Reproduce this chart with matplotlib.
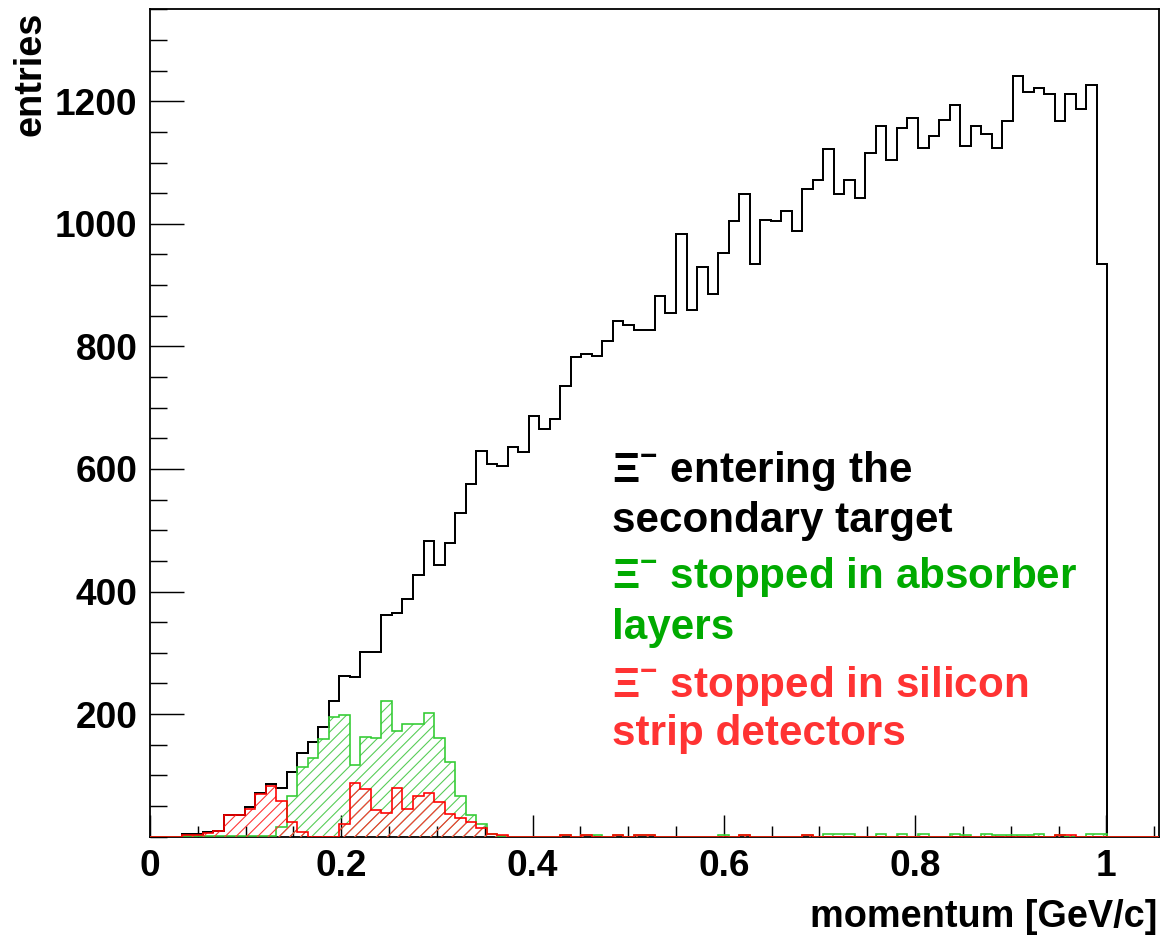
"""
Xi- momentum spectra: entering the secondary target vs. stopped
in absorber layers / silicon strip detectors (ROOT-style histogram).
"""

###############################################################################
# Import packages:
import matplotlib.pyplot as plt
import numpy as np
from matplotlib.ticker import FixedFormatter, FixedLocator, MultipleLocator

###############################################################################
# Data: 100 bins on [0, 1.1] GeV/c, counts

bin_edges = np.linspace(0.0, 1.1, 101)

entering = [
    0, 0, 0, 4, 4, 7, 10, 36, 36, 49,
    71, 86, 79, 106, 137, 155, 179, 222, 263, 260,
    301, 301, 362, 365, 388, 427, 482, 444, 479, 528,
    575, 630, 608, 605, 636, 628, 686, 665, 681, 736,
    783, 788, 785, 809, 841, 835, 826, 826, 882, 855,
    984, 859, 929, 885, 953, 1004, 1048, 935, 1007, 1004,
    1021, 989, 1057, 1072, 1122, 1048, 1072, 1042, 1115, 1159,
    1104, 1156, 1173, 1124, 1144, 1170, 1194, 1127, 1159, 1147,
    1124, 1168, 1241, 1215, 1221, 1212, 1168, 1212, 1188, 1227,
    934, 0, 0, 0, 0, 0, 0, 0, 0, 0,
]

absorber = [
    0, 0, 0, 1, 1, 1, 1, 1, 1, 1,
    1, 1, 16, 66, 113, 128, 160, 196, 198, 117,
    162, 161, 222, 172, 184, 184, 202, 161, 122, 66,
    36, 20, 4, 1, 0, 0, 0, 0, 0, 3,
    0, 3, 3, 0, 3, 0, 3, 3, 0, 0,
    0, 0, 0, 0, 3, 0, 3, 0, 0, 0,
    0, 0, 3, 0, 4, 4, 4, 0, 0, 4,
    0, 4, 0, 4, 0, 0, 5, 3, 0, 5,
    3, 3, 2, 2, 5, 0, 3, 0, 0, 5,
    5, 0, 0, 0, 0, 0, 0, 0, 0, 0,
]

silicon = [
    0, 0, 0, 3, 3, 6, 9, 35, 35, 46,
    69, 82, 59, 24, 8, 0, 0, 0, 21, 88,
    78, 43, 39, 79, 46, 66, 72, 57, 37, 30,
    24, 15, 4, 2, 0, 0, 0, 0, 0, 3,
    0, 3, 0, 0, 3, 0, 3, 3, 0, 0,
    0, 0, 0, 0, 0, 0, 3, 0, 0, 0,
    0, 0, 3, 0, 0, 0, 0, 0, 0, 0,
    0, 0, 0, 0, 0, 0, 0, 0, 0, 0,
    0, 0, 0, 0, 0, 0, 3, 3, 0, 0,
    0, 0, 0, 0, 0, 0, 0, 0, 0, 0,
]

x_ticks = [0, 0.2, 0.4, 0.6, 0.8, 1.0]
x_ticklabels = ["0", "0.2", "0.4", "0.6", "0.8", "1"]
y_ticks = [200, 400, 600, 800, 1000, 1200]
y_ticklabels = ["200", "400", "600", "800", "1000", "1200"]

legend_lines = [
    (r"$\Xi^{-}$ entering the", "black"),
    ("secondary target", "black"),
    (r"$\Xi^{-}$ stopped in absorber", "#00aa00"),
    ("layers", "#00aa00"),
    (r"$\Xi^{-}$ stopped in silicon", "#ff3333"),
    ("strip detectors", "#ff3333"),
]

###############################################################################
# Plot:

plt.rcParams["font.family"] = ["Liberation Sans", "DejaVu Sans"]
plt.rcParams["font.weight"] = "bold"
plt.rcParams["mathtext.fontset"] = "custom"
plt.rcParams["mathtext.rm"] = "Liberation Sans:bold"
plt.rcParams["mathtext.it"] = "Liberation Sans:bold"
plt.rcParams["mathtext.bf"] = "Liberation Sans:bold"
plt.rcParams["hatch.linewidth"] = 0.6

W, H, DPI = 1162, 935, 130
fig = plt.figure(figsize=(W / DPI, H / DPI), dpi=DPI)
ax = fig.add_axes([150 / W, 1 - 836.7 / H, (1159 - 150) / W, (836.7 - 9.3) / H])

# total entering
ax.stairs(entering, bin_edges, color="black", linewidth=1.1, zorder=2)

# stopped in absorber (hatched green)
ax.stairs(absorber, bin_edges, fill=True, facecolor="none", edgecolor="#55cc55",
          hatch="////", linewidth=0, zorder=3)
ax.stairs(absorber, bin_edges, color="#33cc33", linewidth=0.9, zorder=4)

# stopped in silicon (hatched red)
ax.stairs(silicon, bin_edges, fill=True, facecolor="none", edgecolor="#ff3333",
          hatch="////", linewidth=0, zorder=5)
ax.stairs(silicon, bin_edges, color="#ff0000", linewidth=0.9, zorder=6)

ax.set_xlim(0, 1.055)
ax.set_ylim(0, 1350)

# ROOT-like axes: inward ticks on left/bottom only, frame all round
for side in ax.spines.values():
    side.set_linewidth(1.0)
ax.xaxis.set_major_locator(FixedLocator(x_ticks))
ax.xaxis.set_major_formatter(FixedFormatter(x_ticklabels))
ax.xaxis.set_minor_locator(MultipleLocator(0.05))
ax.yaxis.set_major_locator(FixedLocator(y_ticks))
ax.yaxis.set_major_formatter(FixedFormatter(y_ticklabels))
ax.yaxis.set_minor_locator(MultipleLocator(50))

ax.tick_params(axis="x", which="major", direction="in", length=12, width=0.8,
               labelsize=20.5, pad=7)
ax.tick_params(axis="x", which="minor", direction="in", length=6, width=0.8)
ax.tick_params(axis="y", which="major", direction="in", length=19, width=0.8,
               labelsize=20.5, pad=7)
ax.tick_params(axis="y", which="minor", direction="in", length=9.5, width=0.8)
for lab in ax.get_xticklabels() + ax.get_yticklabels():
    lab.set_fontweight("bold")

# axis titles in ROOT positions
fig.text(30 / W, 1 - 12 / H, "entries", rotation=90, ha="center", va="top",
         fontsize=21, fontweight="bold")
fig.text(1157 / W, 1 - 927 / H, "momentum [GeV/c]", ha="right", va="baseline",
         fontsize=21, fontweight="bold")

# legend text block
baselines = [481.7, 531.7, 588, 639, 696.7, 745]
for (txt, col), yb in zip(legend_lines, baselines):
    fig.text(612 / W, 1 - yb / H, txt, color=col, ha="left", va="baseline",
             fontsize=23.4, fontweight="bold")

fig.savefig("out.png", dpi=DPI)
